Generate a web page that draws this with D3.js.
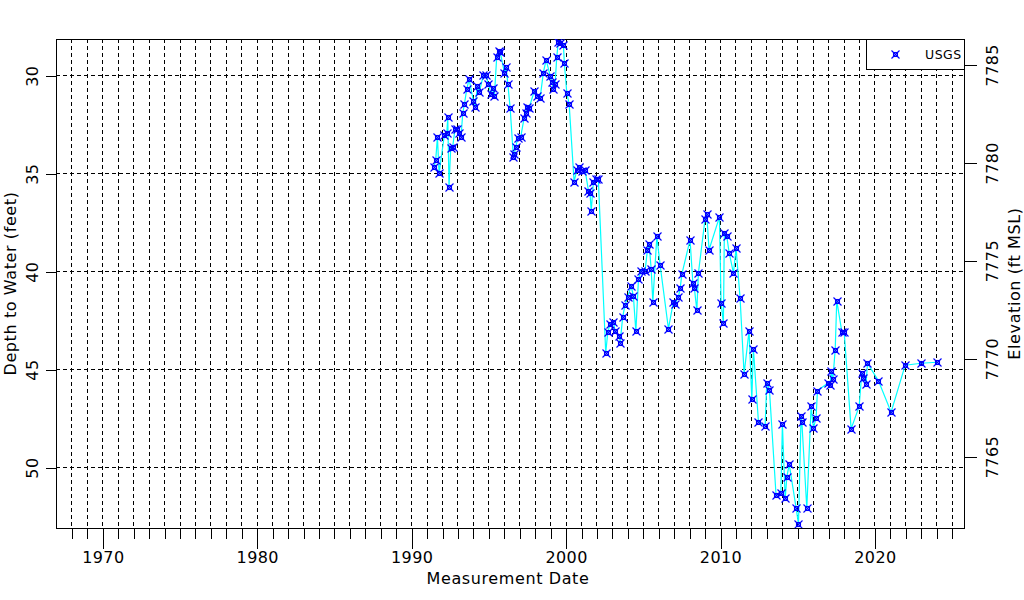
<!DOCTYPE html>
<html>
<head>
<meta charset="utf-8">
<script src="https://cdn.jsdelivr.net/npm/d3@7"></script>
<style>
  html, body { margin: 0; padding: 0; background: #fff; }
  svg { display: block; }
  text { font-family: "DejaVu Sans", sans-serif; fill: #000; }
</style>
</head>
<body>
<svg id="chart" width="1024" height="600"></svg>
<script>
// ---- data (decimal year, depth to water in feet) ----
const dates = [
  1991.48, 1991.59, 1991.70, 1991.81, 1992.15, 1992.31, 1992.37, 1992.45, 1992.56, 1992.69,
  1992.84, 1992.95, 1993.12, 1993.23, 1993.34, 1993.45, 1993.60, 1993.75, 1994.03, 1994.14,
  1994.29, 1994.42, 1994.68, 1994.83, 1995.00, 1995.17, 1995.28, 1995.39, 1995.54, 1995.69,
  1995.76, 1996.04, 1996.15, 1996.26, 1996.41, 1996.62, 1996.68, 1996.77, 1996.90, 1997.10,
  1997.31, 1997.42, 1997.49, 1997.64, 1997.98, 1998.14, 1998.35, 1998.56, 1998.74, 1999.00,
  1999.11, 1999.21, 1999.32, 1999.43, 1999.53, 1999.64, 1999.86, 1999.92, 2000.08, 2000.23,
  2000.55, 2000.73, 2000.87, 2001.05, 2001.26, 2001.48, 2001.58, 2001.66, 2001.80, 2001.98,
  2002.12, 2002.60, 2002.73, 2002.88, 2003.10, 2003.21, 2003.48, 2003.53, 2003.70, 2003.85,
  2004.03, 2004.24, 2004.39, 2004.55, 2004.72, 2004.89, 2005.15, 2005.30, 2005.41, 2005.54,
  2005.65, 2005.91, 2006.12, 2006.66, 2006.98, 2007.09, 2007.31, 2007.42, 2007.53, 2008.06,
  2008.24, 2008.34, 2008.50, 2008.60, 2009.03, 2009.14, 2009.29, 2009.96, 2010.07, 2010.22,
  2010.28, 2010.44, 2010.59, 2010.87, 2011.04, 2011.30, 2011.56, 2011.88, 2012.06, 2012.16,
  2012.49, 2012.92, 2013.03, 2013.20, 2013.63, 2013.94, 2014.04, 2014.22, 2014.33, 2014.48,
  2014.93, 2015.08, 2015.25, 2015.30, 2015.62, 2015.90, 2016.05, 2016.22, 2016.31, 2017.02,
  2017.13, 2017.20, 2017.31, 2017.46, 2017.56, 2017.89, 2018.04, 2018.49, 2019.01, 2019.18,
  2019.29, 2019.46, 2019.55, 2020.26, 2021.08, 2021.99, 2023.03, 2024.04
];
const depths = [
  34.69, 34.32, 33.16, 35.00, 33.05, 32.93, 32.14, 35.68, 33.72, 33.64,
  32.74, 32.76, 32.93, 33.13, 31.94, 31.46, 30.71, 30.20, 31.31, 31.60,
  30.55, 30.84, 29.98, 29.98, 30.44, 30.97, 30.66, 31.06, 29.05, 28.76,
  28.80, 29.87, 29.59, 30.44, 31.68, 34.18, 34.02, 33.67, 33.21, 33.13,
  32.19, 31.94, 31.63, 31.65, 30.80, 31.04, 31.17, 29.87, 29.22, 30.02,
  30.33, 30.71, 30.44, 29.05, 28.29, 28.34, 28.45, 29.39, 30.92, 31.46,
  35.43, 34.83, 34.66, 34.87, 34.83, 35.89, 36.02, 36.92, 35.46, 35.31,
  35.31, 44.18, 43.13, 42.69, 42.57, 43.08, 43.30, 43.67, 42.32, 41.72,
  41.30, 40.75, 41.26, 43.08, 40.41, 39.97, 39.97, 38.91, 38.61, 39.88,
  41.55, 38.23, 39.68, 42.94, 41.55, 41.67, 41.30, 40.87, 40.15, 38.40,
  40.58, 40.87, 42.00, 40.10, 37.35, 37.08, 38.91, 37.24, 41.63, 42.65,
  38.06, 38.23, 39.05, 40.10, 38.83, 41.38, 45.25, 43.05, 46.55, 43.95,
  47.70, 47.90, 45.70, 46.05, 51.45, 51.30, 47.80, 51.60, 50.50, 49.85,
  52.10, 52.90, 47.40, 47.70, 52.10, 46.90, 48.00, 47.50, 46.10, 45.70,
  45.80, 45.10, 45.50, 44.00, 41.50, 43.10, 43.10, 48.05, 46.90, 45.20,
  45.45, 45.75, 44.70, 45.60, 47.20, 44.80, 44.70, 44.65
];
const seriesName = "USGS";
const depthTicks = [30, 35, 40, 45, 50];
const elevTicks = [7765, 7770, 7775, 7780, 7785];
const yearMajorTicks = [1970, 1980, 1990, 2000, 2010, 2020];
const yearMinorTicks = d3.range(1968, 2026);
const datumElevation = 7814.44; // elevation = datum - depth

// ---- layout ----
const L = 56, R = 964, T = 39, B = 528;
const svg = d3.select("#chart");

const x = d3.scaleLinear().domain([1967, 2025.8]).range([L, R]);
const y = d3.scaleLinear().domain([28.15, 53.11]).range([T, B]);
const yR = d3.scaleLinear()
  .domain([datumElevation - 28.15, datumElevation - 53.11]).range([T, B]);

const px = v => Math.round(v) + 0.5;

// clip
svg.append("defs").append("clipPath").attr("id", "plotclip")
  .append("rect").attr("x", L).attr("y", T).attr("width", R - L).attr("height", B - T);

// grid
const grid = svg.append("g").attr("stroke", "#000").attr("stroke-width", 1)
  .attr("stroke-dasharray", "4,3").attr("shape-rendering", "crispEdges");
grid.selectAll("line.v").data(yearMinorTicks).enter().append("line")
  .attr("x1", d => px(x(d))).attr("x2", d => px(x(d)))
  .attr("y1", T).attr("y2", B);
grid.selectAll("line.h").data(depthTicks).enter().append("line")
  .attr("x1", L).attr("x2", R)
  .attr("y1", d => px(y(d))).attr("y2", d => px(y(d)));

// axes
const axBottomMinor = d3.axisBottom(x).tickValues(yearMinorTicks).tickSize(10).tickFormat("");
const axBottomMajor = d3.axisBottom(x).tickValues(yearMajorTicks).tickSize(20).tickPadding(3)
  .tickFormat(d3.format("d"));
const gb1 = svg.append("g").attr("transform", `translate(0.5,${B + 0.5})`).call(axBottomMinor);
const gb2 = svg.append("g").attr("transform", `translate(0.5,${B + 0.5})`).call(axBottomMajor);
[gb1, gb2].forEach(g => {
  g.select(".domain").remove();
  g.selectAll("line").attr("stroke", "#000").attr("shape-rendering", "crispEdges");
});
gb2.selectAll("text").attr("font-size", 16).attr("font-family", "DejaVu Sans")
  .attr("fill", "#000").attr("dy", "0.72em").attr("y", 23).attr("letter-spacing", 0.4);

const axLeft = d3.axisLeft(y).tickValues(depthTicks).tickSize(11).tickFormat(d3.format("d"));
const gl = svg.append("g").attr("transform", `translate(${L + 0.5},0.5)`).call(axLeft);
gl.select(".domain").remove();
gl.selectAll("line").attr("stroke", "#000").attr("shape-rendering", "crispEdges");
gl.selectAll("text").attr("font-size", 16).attr("font-family", "DejaVu Sans").attr("fill", "#000")
  .attr("x", null).attr("dy", null).attr("text-anchor", "middle").attr("letter-spacing", 0.4)
  .attr("transform", "translate(-19,0) rotate(-90)").attr("y", 0);

const axRight = d3.axisRight(yR).tickValues(elevTicks).tickSize(12).tickFormat(d3.format("d"));
const gr = svg.append("g").attr("transform", `translate(${R + 0.5},0.5)`).call(axRight);
gr.select(".domain").remove();
gr.selectAll("line").attr("stroke", "#000").attr("shape-rendering", "crispEdges");
gr.selectAll("text").attr("font-size", 16).attr("font-family", "DejaVu Sans").attr("fill", "#000")
  .attr("x", null).attr("dy", null).attr("text-anchor", "middle").attr("letter-spacing", 0.4)
  .attr("transform", "translate(33,0) rotate(-90)").attr("y", 0);

// frame
svg.append("rect").attr("x", L + 0.5).attr("y", T + 0.5)
  .attr("width", R - L).attr("height", B - T)
  .attr("fill", "none").attr("stroke", "#000").attr("shape-rendering", "crispEdges");

// data
const data = dates.map((d, i) => ({ t: d, v: depths[i] }));
const plot = svg.append("g").attr("clip-path", "url(#plotclip)");
plot.append("path").datum(data)
  .attr("fill", "none").attr("stroke", "#00FFFF").attr("stroke-width", 1.2)
  .attr("d", d3.line().x(d => x(d.t)).y(d => y(d.v)));

function marker(g) {
  g.append("path").attr("d", "M-4,-4L4,4M-4,4L4,-4")
    .attr("stroke", "#0000FF").attr("stroke-width", 1.1).attr("fill", "none");
  g.append("rect").attr("x", -2).attr("y", -2).attr("width", 4).attr("height", 4)
    .attr("stroke", "#0000FF").attr("stroke-width", 1.1).attr("fill", "none");
}
plot.selectAll("g.pt").data(data).enter().append("g")
  .attr("transform", d => `translate(${Math.round(x(d.t)) + 0.5},${Math.round(y(d.v)) + 0.5})`)
  .each(function () { marker(d3.select(this)); });

// legend
const lg = svg.append("g");
lg.append("rect").attr("x", 866.5).attr("y", T + 0.5).attr("width", R - 866).attr("height", 30)
  .attr("fill", "#fff").attr("stroke", "#000").attr("shape-rendering", "crispEdges");
const lm = lg.append("g").attr("transform", "translate(895.5,54.5)");
marker(lm);
lg.append("text").attr("x", 925).attr("y", 59).attr("font-size", 12.5)
  .attr("letter-spacing", 0.5).text(seriesName);

// titles
svg.append("text").attr("x", 508).attr("y", 584).attr("text-anchor", "middle")
  .attr("font-size", 16).attr("letter-spacing", 0.6).text("Measurement Date");
svg.append("text").attr("transform", `translate(16,${(T + B) / 2}) rotate(-90)`)
  .attr("text-anchor", "middle").attr("font-size", 16).attr("letter-spacing", 0.6)
  .text("Depth to Water (feet)");
svg.append("text").attr("transform", `translate(1020,${(T + B) / 2}) rotate(-90)`)
  .attr("text-anchor", "middle").attr("font-size", 16).attr("letter-spacing", 0.6)
  .text("Elevation (ft MSL)");
</script>
</body>
</html>
